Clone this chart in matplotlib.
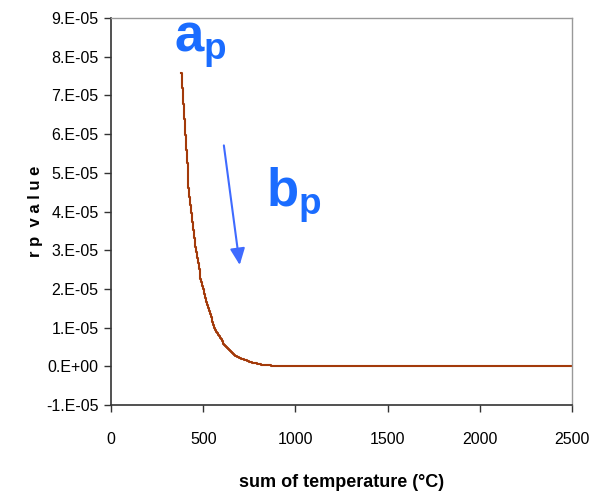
import numpy as np
import matplotlib
matplotlib.use('Agg')
import matplotlib.pyplot as plt

# values (sum of temperature, rp value)
temp = [380, 392, 404, 419, 437, 455, 482, 501, 510, 528, 564, 609, 654, 700, 763, 811, 925, 1500, 2500]
rp   = [7.59e-5, 6.62e-5, 5.67e-5, 4.64e-5, 3.87e-5, 3.09e-5, 2.32e-5, 1.97e-5, 1.76e-5,
        1.45e-5, 0.94e-5, 0.59e-5, 0.34e-5, 0.21e-5, 0.10e-5, 0.05e-5, 0.0, 0.0, 0.0]

xticks = [0, 500, 1000, 1500, 2000, 2500]
yticks = [-1e-5, 0, 1e-5, 2e-5, 3e-5, 4e-5, 5e-5, 6e-5, 7e-5, 8e-5, 9e-5]
ylabels = ["-1.E-05", "0.E+00", "1.E-05", "2.E-05", "3.E-05", "4.E-05",
           "5.E-05", "6.E-05", "7.E-05", "8.E-05", "9.E-05"]

plt.rcParams['font.family'] = ['Liberation Sans', 'DejaVu Sans']
plt.rcParams['mathtext.fontset'] = 'custom'
plt.rcParams['mathtext.bf'] = 'Liberation Sans:bold'
plt.rcParams['mathtext.rm'] = 'Liberation Sans'

fig = plt.figure(figsize=(5.97, 4.99), dpi=100)
ax = fig.add_axes([0.186, 0.188, 0.772, 0.776])

# fine steps, like the original
tt = np.arange(380, 2501, 5)
rr = np.interp(tt, temp, rp)
ax.plot(tt, rr, drawstyle='steps-post', color='#a33a0a', lw=1.5)

ax.set_xlim(0, 2500)
ax.set_ylim(-1e-5, 9e-5)
ax.set_xticks(xticks)
ax.set_xticklabels([str(x) for x in xticks], fontsize=11.5)
ax.set_yticks(yticks)
ax.set_yticklabels(ylabels, fontsize=11.5)
ax.tick_params(direction='out', length=5, width=1, color='#333333', pad=4)
ax.tick_params(axis='x', pad=14)

for s in ['left', 'bottom']:
    ax.spines[s].set_color('#333333')
    ax.spines[s].set_linewidth(1.2)
for s in ['top', 'right']:
    ax.spines[s].set_color('#999999')
    ax.spines[s].set_linewidth(1.0)

ax.set_xlabel('sum of temperature (°C)', fontsize=13, fontweight='bold', labelpad=20)
ax.set_ylabel('r p  v a l u e', fontsize=12, fontweight='bold', labelpad=2)

blue = '#1a6cff'
ax.text(483, 8.3e-5, r'$\mathbf{a_p}$', color=blue, fontsize=38, ha='center', va='center')
ax.text(992, 4.42e-5, r'$\mathbf{b_p}$', color=blue, fontsize=38, ha='center', va='center')
ax.annotate('', xy=(700, 2.55e-5), xytext=(610, 5.78e-5),
            arrowprops=dict(arrowstyle='-|>,head_length=1.0,head_width=0.45', color='#3f6bff', lw=1.5))

fig.savefig('out.png', dpi=100)
